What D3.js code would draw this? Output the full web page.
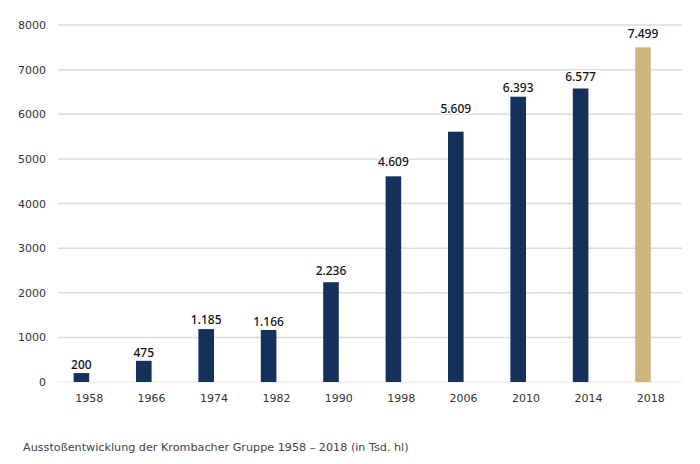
<!DOCTYPE html>
<html lang="de">
<head>
<meta charset="UTF-8">
<title>Ausstoßentwicklung</title>
<script src="https://cdnjs.cloudflare.com/ajax/libs/d3/7.8.4/d3.min.js"></script>
<style>
  body { margin: 0; background: #fff; }
  text { font-family: "DejaVu Sans", sans-serif; }
  .axis text { font-size: 11px; fill: #333; }
  .axis path, .axis line { display: none; }
  .grid line { stroke: #dcdcdc; stroke-width: 1.5; }
  .value { font-family: "Noto Sans", sans-serif; font-size: 12px; font-weight: 500; fill: #111; stroke: #fff; stroke-width: 3px; paint-order: stroke; }
  .caption { font-size: 11.2px; fill: #444; }
</style>
</head>
<body>
<div id="chart"></div>
<script>
const years = ["1958", "1966", "1974", "1982", "1990", "1998", "2006", "2010", "2014", "2018"];
const output = [200, 475, 1185, 1166, 2236, 4609, 5609, 6393, 6577, 7499];
const yTicks = [0, 1000, 2000, 3000, 4000, 5000, 6000, 7000, 8000];
const slots = ["output", "empty"];
const caption = "Ausstoßentwicklung der Krombacher Gruppe 1958 – 2018 (in Tsd. hl)";

const w = 700;
const h = 464;
const plotLeft = 58, plotRight = 682, plotTop = 25, plotBottom = 382;
const navy = "#14315b";
const gold = "#cdb67e";
// labels were placed by hand in the original, gap above each bar in px
const labelGap = [4, 4, 5, 4, 7, 10, 19, 5, 8, 9];

const x = d3.scaleBand().domain(years).range([plotLeft, plotRight]).paddingInner(0.5).paddingOuter(0.25);
// second slot stays empty, that is why the bars sit left of their labels
const xSlot = d3.scaleBand().domain(slots).range([0, x.bandwidth()]);
const y = d3.scaleLinear().domain([0, 8000]).range([plotBottom, plotTop]);

const de = d3.formatLocale({ decimal: ",", thousands: ".", grouping: [3], currency: ["", " €"] });
const fmt = de.format(",");

const svg = d3.select("#chart").append("svg").attr("width", w).attr("height", h);

svg.append("g").attr("class", "grid")
  .selectAll("line")
  .data(yTicks)
  .enter()
  .append("line")
  .attr("x1", plotLeft)
  .attr("x2", plotRight)
  .attr("y1", d => y(d))
  .attr("y2", d => y(d))
  .style("stroke", d => d === 0 ? "#f0f0f0" : null);

svg.append("g").attr("class", "axis")
  .attr("transform", "translate(" + plotLeft + ",0)")
  .call(d3.axisLeft(y).tickValues(yTicks).tickFormat(d3.format("d")).tickSize(0).tickPadding(12));

svg.append("g").attr("class", "axis")
  .attr("transform", "translate(0," + plotBottom + ")")
  .call(d3.axisBottom(x).tickSize(0).tickPadding(12));

svg.selectAll("rect.bar")
  .data(output)
  .enter()
  .append("rect")
  .attr("class", "bar")
  .attr("x", (d, i) => x(years[i]) + xSlot("output"))
  .attr("y", d => y(d))
  .attr("width", xSlot.bandwidth())
  .attr("height", d => y(0) - y(d))
  .attr("fill", (d, i) => years[i] === "2018" ? gold : navy);

svg.selectAll("text.value")
  .data(output)
  .enter()
  .append("text")
  .attr("class", "value")
  .attr("x", (d, i) => x(years[i]) + xSlot("output") + xSlot.bandwidth() / 2)
  .attr("y", (d, i) => y(d) - labelGap[i])
  .attr("text-anchor", "middle")
  .text(d => fmt(d));

svg.append("text")
  .attr("class", "caption")
  .attr("x", 23)
  .attr("y", 451)
  .text(caption);
</script>
</body>
</html>
